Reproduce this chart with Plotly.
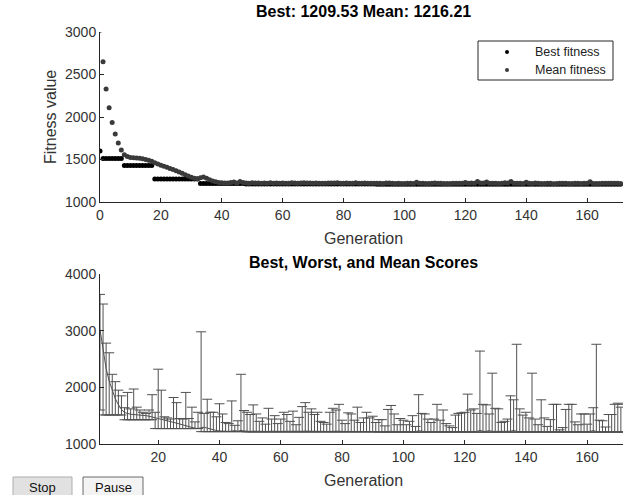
import plotly.graph_objects as go

# ---------------- data ----------------
generation = list(range(0, 172))

best_fitness = [
    1600,
    1512, 1512, 1512, 1512, 1512, 1512, 1512,
    1428, 1428, 1428, 1428, 1428, 1428, 1428, 1428, 1428, 1428,
    1272, 1272, 1272, 1272, 1272, 1272, 1272, 1272, 1272, 1272, 1272, 1272, 1272, 1272, 1272,
    1218, 1218, 1218, 1218, 1218, 1218, 1218, 1218, 1218, 1218, 1218, 1218, 1218, 1218, 1218,
    1213, 1213, 1213, 1213, 1213, 1213, 1213, 1213, 1213, 1213, 1213, 1213, 1213, 1213, 1213,
    1213, 1213, 1213, 1213, 1213, 1213, 1213, 1213, 1213, 1213, 1213, 1213, 1213, 1213, 1213,
    1213, 1213, 1213, 1213, 1213, 1213, 1213, 1213, 1213, 1213, 1213, 1213, 1213,
    1209.53, 1209.53, 1209.53, 1209.53, 1209.53, 1209.53, 1209.53, 1209.53, 1209.53,
    1209.53, 1209.53, 1209.53, 1209.53, 1209.53, 1209.53, 1209.53, 1209.53, 1209.53,
    1209.53, 1209.53, 1209.53, 1209.53, 1209.53, 1209.53, 1209.53, 1209.53, 1209.53,
    1209.53, 1209.53, 1209.53, 1209.53, 1209.53, 1209.53, 1209.53, 1209.53, 1209.53,
    1209.53, 1209.53, 1209.53, 1209.53, 1209.53, 1209.53, 1209.53, 1209.53, 1209.53,
    1209.53, 1209.53, 1209.53, 1209.53, 1209.53, 1209.53, 1209.53, 1209.53, 1209.53,
    1209.53, 1209.53, 1209.53, 1209.53, 1209.53, 1209.53, 1209.53, 1209.53, 1209.53,
    1209.53, 1209.53, 1209.53, 1209.53, 1209.53, 1209.53, 1209.53, 1209.53, 1209.53,
    1209.53, 1209.53, 1209.53, 1209.53, 1209.53, 1209.53, 1209.53, 1209.53, 1209.53,
]

mean_fitness = [
    3020, 2650, 2330, 2110, 1935, 1800, 1695, 1612, 1555, 1535,
    1525, 1520, 1518, 1515, 1510, 1500, 1490, 1478, 1462, 1448,
    1432, 1420, 1408, 1395, 1382, 1368, 1352, 1337, 1320, 1305,
    1290, 1278, 1275, 1285, 1295, 1280, 1262, 1248, 1238, 1230,
    1226, 1224, 1223, 1228, 1236, 1225, 1240, 1230, 1224, 1222,
    1226, 1223, 1224, 1221, 1225, 1222, 1226, 1221, 1223, 1222,
    1224, 1222, 1221, 1226, 1223, 1221, 1225, 1227, 1224, 1223,
    1222, 1224, 1221, 1222, 1221, 1224, 1225, 1224, 1226, 1222,
    1221, 1223, 1222, 1221, 1226, 1222, 1222, 1223, 1221, 1222,
    1220, 1221, 1220, 1219, 1223, 1224, 1221, 1219, 1220, 1219,
    1219, 1220, 1221, 1218, 1232, 1222, 1221, 1219, 1219, 1221,
    1224, 1220, 1222, 1219, 1218, 1218, 1220, 1221, 1221, 1222,
    1228, 1222, 1223, 1221, 1240, 1224, 1223, 1236, 1222, 1222,
    1220, 1219, 1220, 1226, 1225, 1240, 1222, 1220, 1221, 1219,
    1232, 1220, 1218, 1224, 1220, 1218, 1219, 1222, 1222, 1216,
    1217, 1221, 1222, 1222, 1218, 1218, 1220, 1220, 1218, 1220,
    1222, 1238, 1219, 1218, 1217, 1220, 1220, 1222, 1222, 1221,
    1220, 1218,
]

# worst score of each generation (lower plot, generations 1..172)
worst_score = [
    3640, 3470, 2780, 2610, 2230, 2100, 1950, 1850, 1640, 1910,
    1620, 1970, 1650, 1600, 1560, 1540, 1600, 1870, 1560, 2320,
    1950, 1480, 1460, 1440, 1820, 1730, 1450, 1440, 1910, 1450,
    1650, 1390, 1560, 2980, 1540, 1790, 1560, 1560, 1480, 1710,
    1530, 1380, 1360, 1760, 1330, 1410, 2230, 1590, 1560, 1520,
    1690, 1530, 1400, 1460, 1350, 1630, 1440, 1500, 1360, 1440,
    1560, 1520, 1400, 1580, 1340, 1470, 1660, 1730, 1560, 1620,
    1520, 1560, 1400, 1380, 1350, 1560, 1630, 1600, 1700, 1420,
    1360, 1550, 1530, 1420, 1650, 1380, 1460, 1560, 1460, 1490,
    1380, 1430, 1430, 1320, 1610, 1680, 1530, 1340, 1450, 1420,
    1340, 1400, 1500, 1310, 1870, 1540, 1530, 1440, 1380, 1440,
    1700, 1420, 1600, 1360, 1320, 1290, 1510, 1540, 1550, 1560,
    1880, 1600, 1620, 1540, 2640, 1700, 1690, 1530, 2250, 1630,
    1620, 1380, 1400, 1440, 1850, 1780, 2760, 1620, 1510, 1560,
    1460, 2250, 1440, 1340, 1780, 1460, 1310, 1430, 1700, 1700,
    1250, 1290, 1610, 1700, 1700, 1390, 1340, 1530, 1530, 1350,
    1530, 1640, 2760, 1420, 1410, 1300, 1520, 1520, 1700, 1720,
    1650, 1700,
]

legend_labels = ["Best fitness", "Mean fitness"]

score_generation = [g + 1 for g in generation]
upper_err = [w - m for w, m in zip(worst_score, mean_fitness)]
lower_err = [m - b for m, b in zip(mean_fitness, best_fitness)]

# ---------------- layout helpers ----------------
W, H = 623, 495
L, R = 100, 0


def px(x):
    return (x - L) / (W - L - R)


def py(y):
    return 1 - y / H


FONT = "Liberation Sans, Arial, Helvetica, sans-serif"
AX = "#262626"
TXT = "#333333"
BAR = "#505050"
BEST_C = "#000000"
MEAN_C = "#3a3a3a"

fig = go.Figure()

fig.add_trace(go.Scatter(
    x=generation, y=best_fitness, mode="markers", name=legend_labels[0],
    marker=dict(color=BEST_C, size=5), xaxis="x", yaxis="y", showlegend=False,
))
fig.add_trace(go.Scatter(
    x=generation, y=mean_fitness, mode="markers", name=legend_labels[1],
    marker=dict(color=MEAN_C, size=5), xaxis="x", yaxis="y", showlegend=False,
))
fig.add_trace(go.Scatter(
    x=score_generation, y=mean_fitness, mode="lines", showlegend=False,
    line=dict(color=BAR, width=1), xaxis="x2", yaxis="y2",
    error_y=dict(type="data", symmetric=False, array=upper_err,
                 arrayminus=lower_err, color=BAR, thickness=1, width=5),
))

axis_common = dict(
    showline=True, linecolor=AX, linewidth=1, ticks="inside", ticklen=4,
    tickcolor=AX, showgrid=False, zeroline=False, automargin=False,
    tickfont=dict(family=FONT, size=14, color=TXT),
)

fig.update_layout(
    width=W, height=H,
    margin=dict(l=L, r=R, t=0, b=0, autoexpand=False),
    paper_bgcolor="white", plot_bgcolor="white",
    font=dict(family=FONT, color=TXT),
    xaxis=dict(domain=[0, 1], anchor="y", range=[0, 171.8], tick0=0, dtick=20,
               **axis_common),
    yaxis=dict(domain=[py(202), py(32)], anchor="x", range=[1000, 3000],
               tick0=1000, dtick=500, **axis_common),
    xaxis2=dict(domain=[0, 1], anchor="y2", range=[1, 171.7], tick0=0, dtick=20,
                **axis_common),
    yaxis2=dict(domain=[py(444), py(274)], anchor="x2", range=[1000, 4000],
                tick0=1000, dtick=1000, **axis_common),
    showlegend=False,
)

annotations = [
    dict(text="<b>Best: 1209.53 Mean: 1216.21</b>", x=px(363), y=py(11),
         font=dict(size=16, color="#000000")),
    dict(text="Fitness value", x=px(51), y=py(117), textangle=-90,
         font=dict(size=16, color=TXT)),
    dict(text="Generation", x=px(363), y=py(238), font=dict(size=16, color=TXT)),
    dict(text="<b>Best, Worst, and Mean Scores</b>", x=px(363), y=py(262),
         font=dict(size=16, color="#000000")),
    dict(text="Generation", x=px(363), y=py(480), font=dict(size=16, color=TXT)),
    dict(text="Stop", x=px(42), y=py(487), font=dict(size=13, color="#111111")),
    dict(text="Pause", x=px(113), y=py(487), font=dict(size=13, color="#111111")),
]
for a in annotations:
    a.update(xanchor="center")
# legend texts
for label, yy in zip(legend_labels, [52, 70]):
    annotations.append(dict(text=label, x=px(533), y=py(yy), xanchor="left",
                            font=dict(size=12.5, color="#222222")))
for a in annotations:
    a.update(xref="paper", yref="paper", showarrow=False, yanchor="middle")
    a["font"]["family"] = FONT
fig.update_layout(annotations=annotations)

# legend box and its markers
fig.add_shape(type="rect", xref="paper", yref="paper",
              x0=px(478), x1=px(613), y0=py(80), y1=py(41),
              fillcolor="white", line=dict(color=AX, width=1), layer="above")
for col, yy in zip([BEST_C, MEAN_C], [52, 70]):
    fig.add_shape(type="circle", xref="paper", yref="paper",
                  xsizemode="pixel", ysizemode="pixel",
                  xanchor=px(507), yanchor=py(yy), x0=-2, x1=2, y0=-2, y1=2,
                  fillcolor=col, line=dict(color=col, width=0), layer="above")

# Stop / Pause buttons of the GA figure window
fig.add_shape(type="rect", xref="paper", yref="paper",
              x0=px(13), x1=px(72), y0=py(497), y1=py(477),
              fillcolor="#e1e1e1", line=dict(color="#adadad", width=1), layer="below")
fig.add_shape(type="rect", xref="paper", yref="paper",
              x0=px(83), x1=px(143), y0=py(497), y1=py(477),
              fillcolor="#f3f3f3", line=dict(color="#6a6a6a", width=1), layer="below")

fig.write_html(
    "out.html",
    config={"displayModeBar": False},
    post_script="document.body.style.margin='0';document.body.style.overflow='hidden';",
)
